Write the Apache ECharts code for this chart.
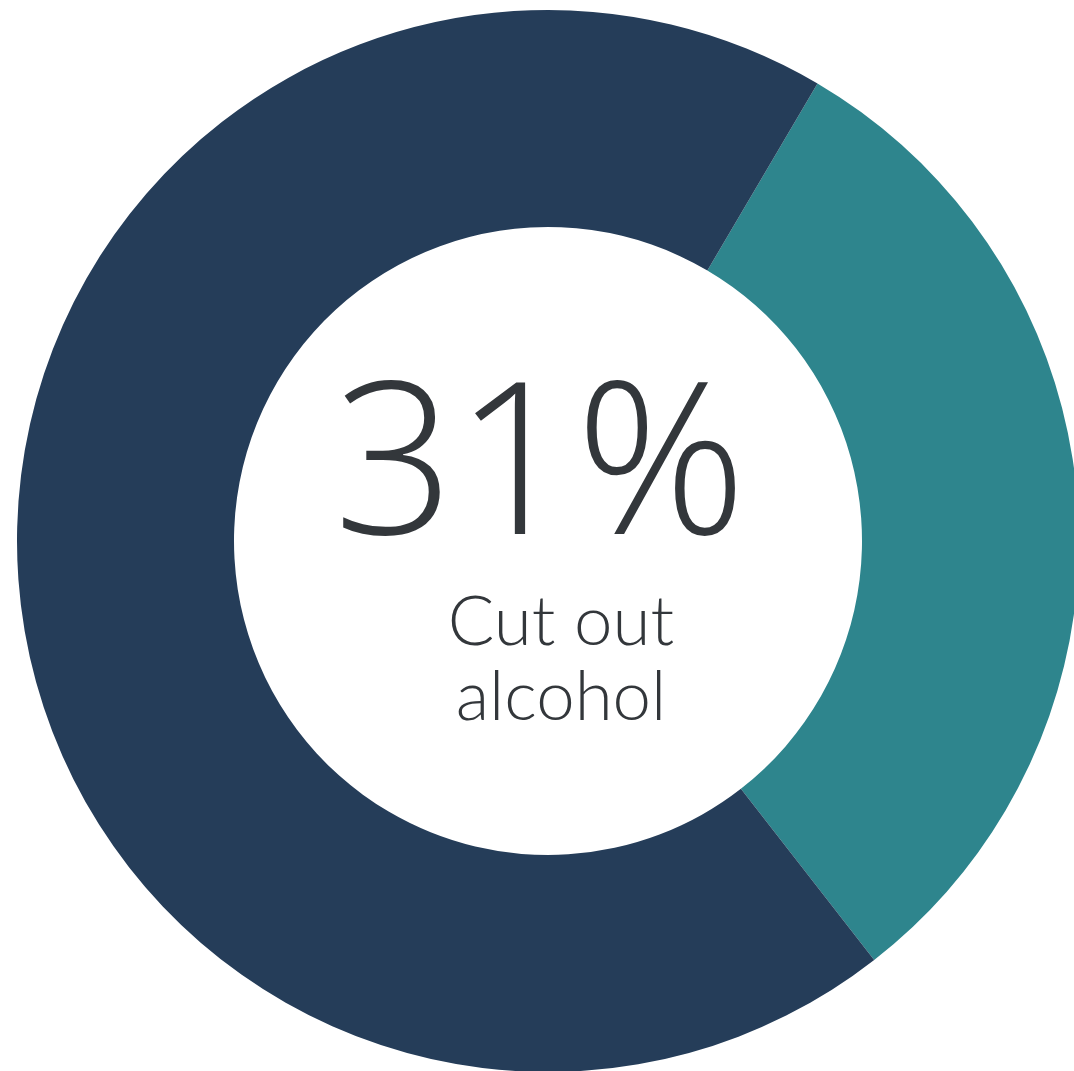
<!DOCTYPE html>
<html>
<head>
<meta charset="utf-8">
<script src="https://cdn.jsdelivr.net/npm/echarts@6/dist/echarts.min.js"></script>
<style>
  html, body { margin: 0; padding: 0; background: #ffffff; }
  #chart { width: 1074px; height: 1071px; }
</style>
</head>
<body>
<div id="chart"></div>
<script>
// Share of respondents who cut out alcohol
const categories = ['Cut out alcohol', 'Other'];
const values = [31, 69];
const colors = ['#2E858D', '#253D59'];
const headline = '31%';
const caption = ['Cut out', 'alcohol'];

const chart = echarts.init(document.getElementById('chart'), null, { renderer: 'canvas' });

const textColor = '#33373B';
const headFont = '"Open Sans", Lato, sans-serif';
const bodyFont = 'Lato, "Noto Sans", sans-serif';

chart.setOption({
  animation: false,
  series: [{
    type: 'pie',
    center: [548, 541],
    radius: [314, 531],
    startAngle: 59.5,
    clockwise: true,
    silent: true,
    label: { show: false },
    labelLine: { show: false },
    itemStyle: { borderWidth: 0 },
    data: categories.map((name, i) => ({
      name,
      value: values[i],
      itemStyle: { color: colors[i] }
    }))
  }],
  graphic: [
    {
      type: 'text',
      x: 540,
      y: 368,
      style: {
        text: headline,
        fill: textColor,
        font: '300 212px ' + headFont,
        align: 'center',
        verticalAlign: 'top'
      }
    },
    {
      type: 'text',
      x: 561,
      y: 588,
      style: {
        text: caption[0],
        fill: textColor,
        font: '300 69px ' + bodyFont,
        align: 'center',
        verticalAlign: 'top'
      }
    },
    {
      type: 'text',
      x: 561,
      y: 663,
      style: {
        text: caption[1],
        fill: textColor,
        font: '300 69px ' + bodyFont,
        align: 'center',
        verticalAlign: 'top'
      }
    }
  ]
});
</script>
</body>
</html>
